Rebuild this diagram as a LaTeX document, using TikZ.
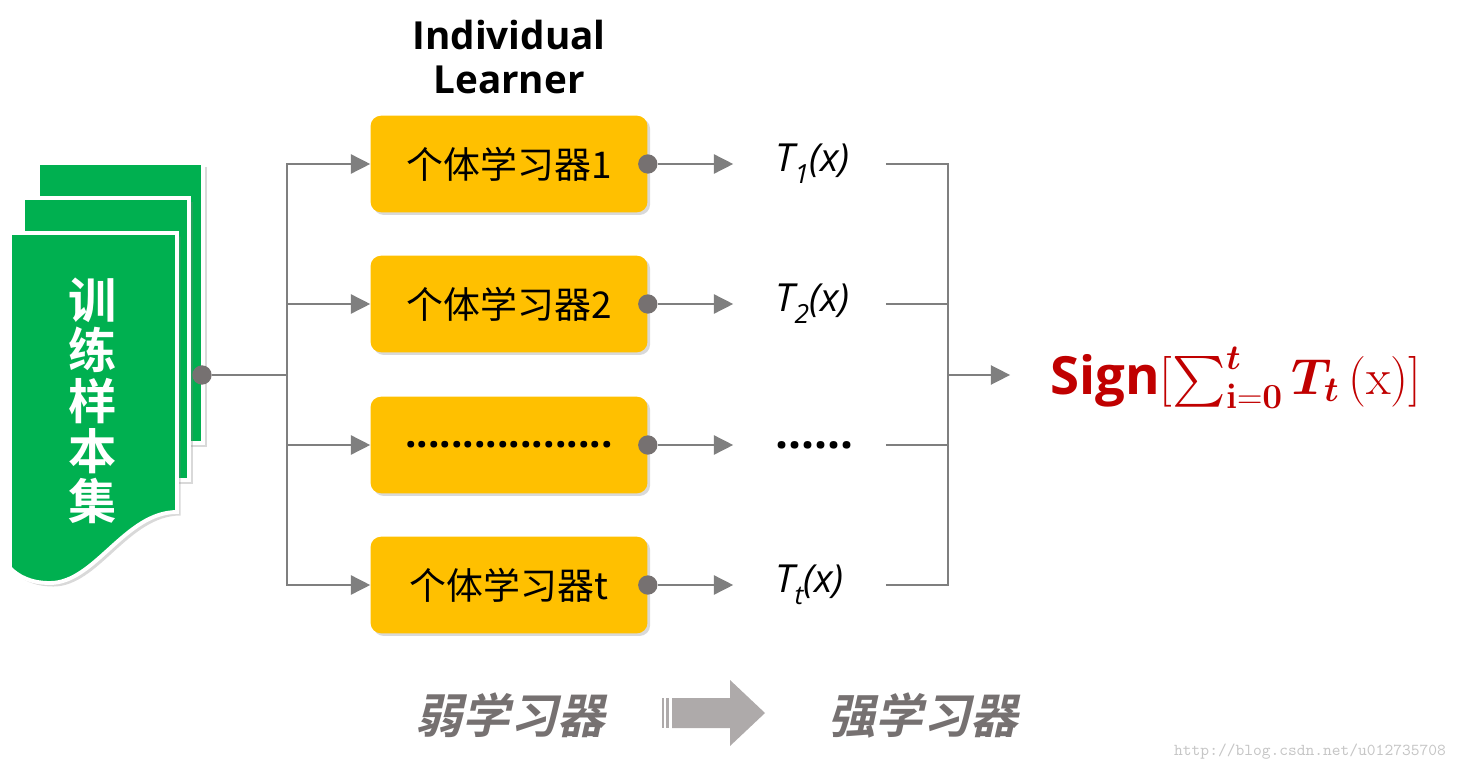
\documentclass[tikz,border=0pt]{standalone}
\usepackage{amsmath}
\usepackage[no-math]{fontspec}
\setmainfont{Open Sans}
\newfontfamily\cjk{Noto Sans CJK SC}
\newfontfamily\cjkbold{Noto Sans CJK SC Bold}
\newfontfamily\cjkslant[FakeSlant=0.22]{Noto Sans CJK SC Bold}
\usetikzlibrary{arrows.meta,shadows}
\definecolor{boxyellow}{HTML}{FFC000}
\definecolor{docgreen}{HTML}{00B050}
\definecolor{dotgray}{HTML}{767171}
\definecolor{wiregray}{HTML}{7F7F7F}
\definecolor{signred}{HTML}{C00000}
\definecolor{arrowgray}{HTML}{AEAAAA}
\tikzset{>={Triangle[length=11pt,width=11pt]}}
\tikzset{
  page/.style={fill=docgreen, draw=white, line width=2.2pt,
    drop shadow={shadow xshift=2pt, shadow yshift=-2pt, opacity=0.3}},
  learner/.style={rectangle, rounded corners=6pt, fill=boxyellow,
    minimum width=157.6pt, minimum height=55pt, font=\cjk\fontsize{21}{21}\selectfont,
    drop shadow={shadow xshift=1.5pt, shadow yshift=-1.5pt, opacity=0.3}},
  dot/.style={circle, fill=dotgray, inner sep=0, minimum size=11pt},
  wire/.style={draw=wiregray, line width=0.85pt},
  outlbl/.style={anchor=west, inner sep=0, text width=44pt, font=\itshape\fontsize{22}{22}\selectfont}
}
\newcommand{\tout}[1]{T\raisebox{-.3em}{\fontsize{15}{15}\selectfont #1}(x)}

\begin{document}
\begin{tikzpicture}[x=0.02cm,y=-0.02cm]
\useasboundingbox (0,0) rectangle (1462,773);
% training set
\filldraw[page] (38,163) rectangle (203,443);
\filldraw[page] (23,198) rectangle (189,480);
\filldraw[page] (10,233) -- (177,233) -- (177,512) .. controls (125,512) and (95,583) .. (50,583) .. controls (30,583) and (18,576) .. (10,568) -- cycle;
\node[font=\cjkbold\fontsize{27.5}{28.6}\selectfont, text=white, align=center] (data) at (93,401) {训\\练\\样\\本\\集};
\node[dot] (src) at (202,375) {};
\coordinate (split) at (287,375);
\coordinate (merge) at (948,375);

\node[font=\bfseries\fontsize{22}{24.5}\selectfont, align=center] (title) at (509,57) {Individual\\Learner};

% learners
\node[learner] (l1) at (509,164) {个体学习器1};
\node[learner] (l2) at (509,304) {个体学习器2};
\node[learner, font=\bfseries\fontsize{23}{23}\selectfont] (l3) at (509,445) {..................};
\node[learner] (l4) at (509,585) {个体学习器t};
\node[dot] (d1) at (l1.east) {};
\node[dot] (d2) at (l2.east) {};
\node[dot] (d3) at (l3.east) {};
\node[dot] (d4) at (l4.east) {};

\node[outlbl] (t1) at (775,164) {\tout{1}};
\node[outlbl] (t2) at (775,304) {\tout{2}};
\node[outlbl, font=\bfseries\fontsize{26}{26}\selectfont] (t3) at (775,445) {......};
\node[outlbl] (t4) at (775,585) {\tout{t}};

\node[anchor=west, inner sep=0, text=signred, font=\bfseries\fontsize{30}{30}\selectfont] (sign) at (1050,378)
  {Sign{\fontsize{24}{24}\selectfont\scalebox{1.16}{$[\sum_{\mathbf{i=0}}^{\boldsymbol{t}}\boldsymbol{T_t}\,(\mathrm{x})]$}}};

\draw[wire] (src) -- (split);
\draw[wire,->] (split) |- (l1);
\draw[wire,->] (split) |- (l2);
\draw[wire,->] (split) |- (l3);
\draw[wire,->] (split) |- (l4);
\draw[wire,->, shorten >=23.8pt] (d1) -- (t1.west);
\draw[wire,->, shorten >=23.8pt] (d2) -- (t2.west);
\draw[wire,->, shorten >=23.8pt] (d3) -- (t3.west);
\draw[wire,->, shorten >=23.8pt] (d4) -- (t4.west);
\draw[wire, shorten <=18.7pt] (t1.east) -| (merge);
\draw[wire, shorten <=18.7pt] (t2.east) -| (merge);
\draw[wire, shorten <=18.7pt] (t3.east) -| (merge);
\draw[wire, shorten <=18.7pt] (t4.east) -| (merge);
\draw[wire,->, shorten >=22.7pt] (merge) -- (merge -| sign.west);

% weak to strong
\node[font=\cjkslant\fontsize{27}{27}\selectfont, text=dotgray] (weak) at (510,715) {弱学习器};
\node[font=\cjkslant\fontsize{27}{27}\selectfont, text=dotgray] (strong) at (923,715) {强学习器};
\fill[arrowgray] (662,698) rectangle (664,728);
\fill[arrowgray] (666,698) rectangle (669,728);
\fill[arrowgray] (672,698) -- (730,698) -- (730,680) -- (765,713) -- (730,746) -- (730,728) -- (672,728) -- cycle;

\node[text=gray!45, font=\ttfamily\fontsize{9.5}{9.5}\selectfont] (mark) at (1310,752) {http://blog.csdn.net/u012735708};
\end{tikzpicture}
\end{document}
